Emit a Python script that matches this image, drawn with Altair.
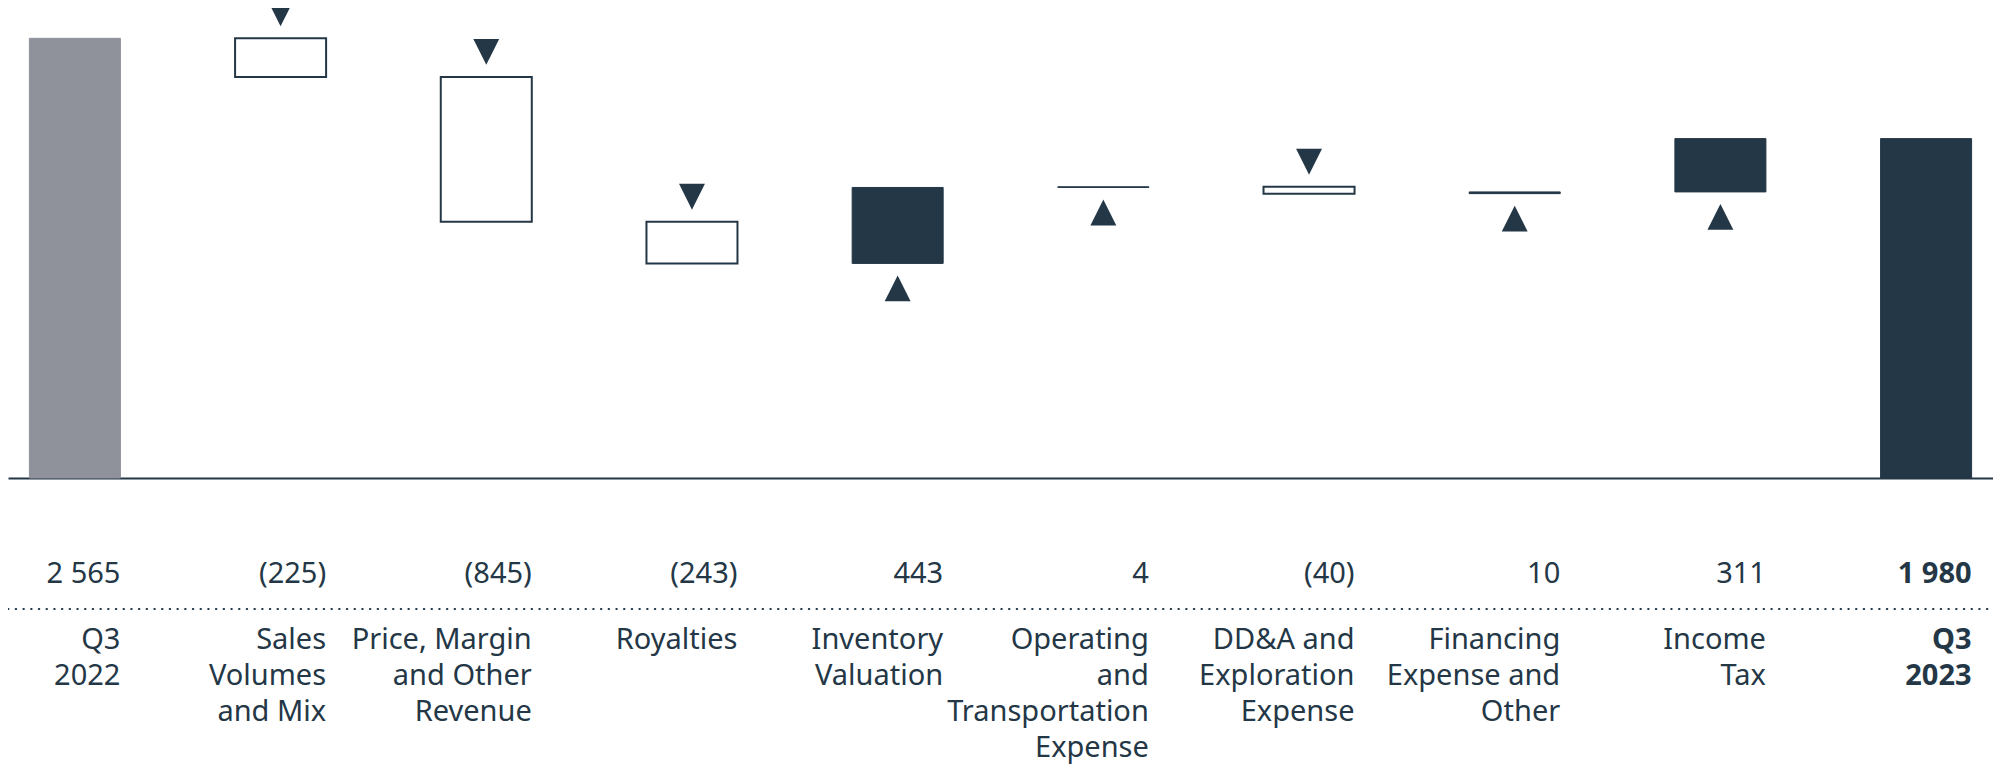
import altair as alt
import pandas as pd

# ---- data ----
categories = [
    "Q3|2022",
    "Sales|Volumes|and Mix",
    "Price, Margin|and Other|Revenue",
    "Royalties",
    "Inventory|Valuation",
    "Operating|and|Transportation|Expense",
    "DD&A and|Exploration|Expense",
    "Financing|Expense and|Other",
    "Income|Tax",
    "Q3|2023",
]
changes = [2565, -225, -845, -243, 443, 4, -40, 10, 311, 1980]
value_labels = ["2 565", "(225)", "(845)", "(243)", "443", "4", "(40)", "10", "311", "1 980"]

rows = []
cum = 0
n = len(categories)
for i, (c, v, t) in enumerate(zip(categories, changes, value_labels)):
    if i == 0 or i == n - 1:
        start, end = 0, v
        kind = "start" if i == 0 else "end"
        cum = v
    else:
        start, end = cum, cum + v
        kind = "down" if v < 0 else "up"
        cum = end
    rows.append(dict(cat=c, start=start, end=end, kind=kind, text=t))
df = pd.DataFrame(rows)

DARK = "#243746"
GRAY = "#8F919B"
FONT = "Noto Sans"

x_axis = alt.Axis(
    title=None, orient="bottom", domain=True, domainColor=DARK, domainWidth=2,
    ticks=False, tickSize=0, grid=False, labelAngle=0,
    labelExpr="split(datum.label, '|')", labelAlign="right", labelBaseline="alphabetic",
    labelOffset=45.5, labelPadding=170, labelFont=FONT, labelFontSize=29,
    labelLineHeight=36.3, labelColor=DARK, labelLimit=1000, labelOverlap=False,
    labelFlush=False, labelBound=False,
    labelFontWeight={"condition": {"test": "datum.value === 'Q3|2023'", "value": "bold"}, "value": "normal"},
)
x_scale = alt.Scale(domain=categories, paddingInner=0.5575, paddingOuter=0.104)
y_scale = alt.Scale(domain=[0, 2742], nice=False, zero=False)

X = alt.X("cat:N", scale=x_scale, axis=x_axis)
Y = alt.Y("start:Q", scale=y_scale, axis=None)

base = alt.Chart(df)

filled = base.transform_filter("datum.kind != 'down'").mark_bar(strokeWidth=1).encode(
    x=X, y=Y, y2="end:Q",
    fill=alt.Fill("kind:N", scale=alt.Scale(domain=["start", "up", "end"], range=[GRAY, DARK, DARK]), legend=None),
    stroke=alt.Stroke("kind:N", scale=alt.Scale(domain=["start", "up", "end"], range=[GRAY, DARK, DARK]), legend=None),
)

outlined = base.transform_filter("datum.kind == 'down'").mark_bar(
    fill="white", stroke=DARK, strokeWidth=2
).encode(x=X, y=Y, y2="end:Q")

DOWN = "M-1,-1L1,-1L0,1Z"
UP = "M0,-1L1,1L-1,1Z"

tri_down = base.transform_filter("datum.kind == 'down'").mark_point(
    shape=DOWN, filled=True, color=DARK, size=670, opacity=1, strokeWidth=0, yOffset=-25
).encode(x=X, y=Y)

tri_up = base.transform_filter("datum.kind == 'up'").mark_point(
    shape=UP, filled=True, color=DARK, size=670, opacity=1, strokeWidth=0, yOffset=25
).encode(x=X, y=Y)

XT = alt.X("cat:N", scale=x_scale, axis=x_axis, bandPosition=1)

values_text = base.transform_filter("datum.kind != 'end'").mark_text(
    align="right", baseline="alphabetic", font=FONT, fontSize=29, color=DARK
).encode(x=XT, y=alt.value(575.3), text="text:N")

values_text_bold = base.transform_filter("datum.kind == 'end'").mark_text(
    align="right", baseline="alphabetic", font=FONT, fontSize=29, color=DARK, fontWeight="bold"
).encode(x=XT, y=alt.value(575.3), text="text:N")

dotted = alt.Chart(pd.DataFrame({"a": [0]})).mark_rule(
    color=DARK, strokeWidth=2, strokeDash=[0.5, 7.2], strokeCap="round"
).encode(x=alt.value(0), x2=alt.value(1985), y=alt.value(601))

chart = alt.layer(filled, outlined, tri_down, tri_up, values_text, values_text_bold, dotted).properties(
    width=1985, height=470,
    padding={"left": 0, "right": 0, "top": 0, "bottom": 286},
    autosize=alt.AutoSizeParams(type="none"),
    background="white",
).configure_view(strokeWidth=0)

chart.save("out.html", embed_options={"renderer": "svg", "actions": False})
